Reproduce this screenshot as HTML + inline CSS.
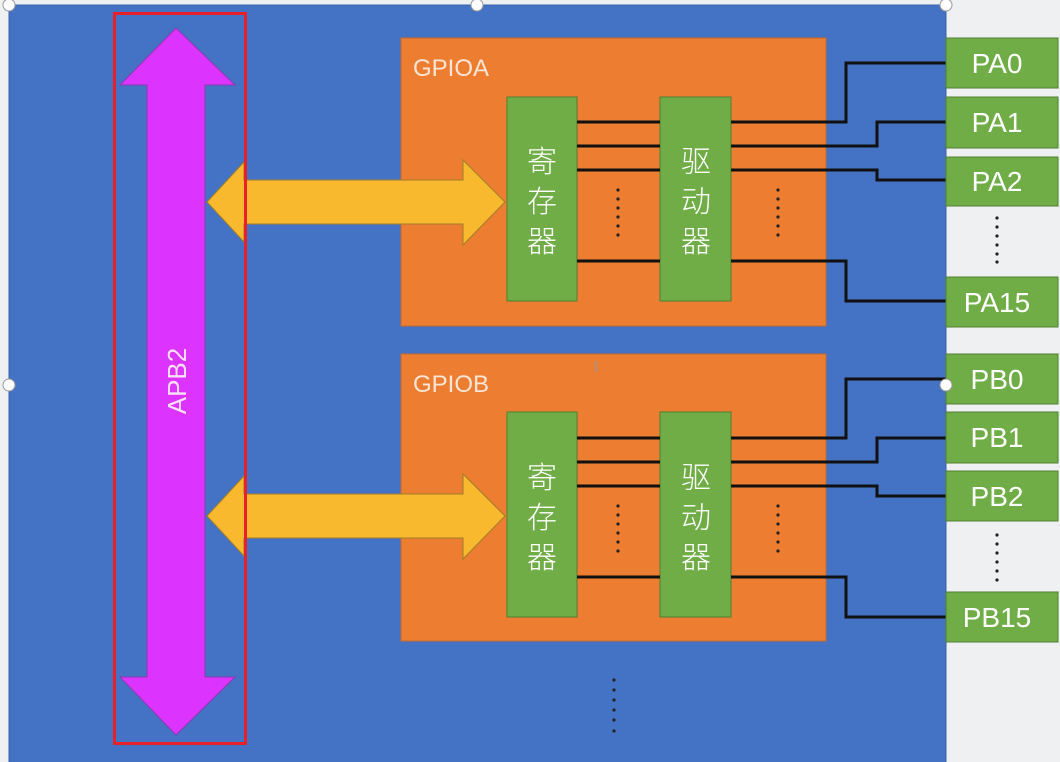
<!DOCTYPE html>
<html><head><meta charset="utf-8"><style>
body{margin:0;width:1060px;height:762px;overflow:hidden;background:#eef0f2}
svg{display:block}
text{font-family:"Liberation Sans","Noto Sans CJK SC",sans-serif}
.c{font-family:"Noto Sans CJK SC",sans-serif;font-weight:300}
</style></head><body>
<svg width="1060" height="762" viewBox="0 0 1060 762">
<rect x="0" y="0" width="1060" height="762" fill="#eef0f2"/>
<rect x="9" y="5" width="937" height="760" fill="#4472c4" stroke="#3a62a8"/>
<g id="A">
<rect x="401" y="38" width="425" height="288" fill="#ed7d31" stroke="#c9692a"/>
<text x="413" y="76" font-size="24" fill="#fbe5d6">GPIOA</text>
<rect x="507" y="97" width="70" height="204" fill="#70ad47" stroke="#507e32"/>
<rect x="660" y="97" width="71" height="204" fill="#70ad47" stroke="#507e32"/>
<g class="c" font-size="30" fill="#fff" text-anchor="middle">
<text x="542" y="172" class="c">寄</text><text x="542" y="212" class="c">存</text><text x="542" y="252" class="c">器</text>
<text x="696" y="172" class="c">驱</text><text x="696" y="212" class="c">动</text><text x="696" y="252" class="c">器</text></g>
<g stroke="#111" stroke-width="3" fill="none">
<path d="M577 122H660M577 146H660M577 170H660M577 261H660"/>
<path d="M731 122H846V63H946M731 146H877V122H946M731 170H877V180H946M731 261H846V301H946"/>
</g>
<g fill="#222"><circle cx="618" cy="190" r="1.6"/><circle cx="618" cy="199" r="1.6"/><circle cx="618" cy="208" r="1.6"/><circle cx="618" cy="217" r="1.6"/><circle cx="618" cy="226" r="1.6"/><circle cx="618" cy="235" r="1.6"/>
<circle cx="778" cy="190" r="1.6"/><circle cx="778" cy="199" r="1.6"/><circle cx="778" cy="208" r="1.6"/><circle cx="778" cy="217" r="1.6"/><circle cx="778" cy="226" r="1.6"/><circle cx="778" cy="235" r="1.6"/>
<circle cx="997" cy="218" r="1.6"/><circle cx="997" cy="227" r="1.6"/><circle cx="997" cy="236" r="1.6"/><circle cx="997" cy="245" r="1.6"/><circle cx="997" cy="254" r="1.6"/><circle cx="997" cy="262" r="1.6"/></g>
<polygon points="207,202 244,162 244,180 463,180 463,160 505,202 463,245 463,224 244,224 244,242" fill="#f9b92e" stroke="#a07d2a"/>
</g>
<g transform="translate(0,316)">
<rect x="401" y="38" width="425" height="287" fill="#ed7d31" stroke="#c9692a"/>
<text x="413" y="76" font-size="24" fill="#fbe5d6">GPIOB</text>
<rect x="507" y="96" width="70" height="205" fill="#70ad47" stroke="#507e32"/>
<rect x="660" y="96" width="71" height="205" fill="#70ad47" stroke="#507e32"/>
<g font-size="30" fill="#fff" text-anchor="middle">
<text x="542" y="172" class="c">寄</text><text x="542" y="212" class="c">存</text><text x="542" y="252" class="c">器</text>
<text x="696" y="172" class="c">驱</text><text x="696" y="212" class="c">动</text><text x="696" y="252" class="c">器</text></g>
<g stroke="#111" stroke-width="3" fill="none">
<path d="M577 122H660M577 146H660M577 170H660M577 261H660"/>
<path d="M731 122H846V63H946M731 146H877V122H946M731 170H877V180H946M731 261H846V301H946"/>
</g>
<g fill="#222"><circle cx="618" cy="190" r="1.6"/><circle cx="618" cy="199" r="1.6"/><circle cx="618" cy="208" r="1.6"/><circle cx="618" cy="217" r="1.6"/><circle cx="618" cy="226" r="1.6"/><circle cx="618" cy="235" r="1.6"/>
<circle cx="778" cy="190" r="1.6"/><circle cx="778" cy="199" r="1.6"/><circle cx="778" cy="208" r="1.6"/><circle cx="778" cy="217" r="1.6"/><circle cx="778" cy="226" r="1.6"/><circle cx="778" cy="235" r="1.6"/>
<circle cx="997" cy="219" r="1.6"/><circle cx="997" cy="228" r="1.6"/><circle cx="997" cy="237" r="1.6"/><circle cx="997" cy="246" r="1.6"/><circle cx="997" cy="255" r="1.6"/><circle cx="997" cy="264" r="1.6"/></g>
<polygon points="207,200 244,160 244,178 463,178 463,158 505,200 463,243 463,222 244,222 244,240" fill="#f9b92e" stroke="#a07d2a"/>
</g>
<g fill="#70ad47" stroke="#507e32">
<rect x="946" y="38" width="112" height="50"/><rect x="946" y="97" width="112" height="51"/><rect x="946" y="157" width="112" height="49"/><rect x="946" y="277" width="112" height="50"/>
<rect x="946" y="354" width="112" height="50"/><rect x="946" y="412" width="112" height="51"/><rect x="946" y="471" width="112" height="50"/><rect x="946" y="592" width="112" height="50"/>
</g>
<g font-size="28" fill="#fff" text-anchor="middle">
<text x="997" y="73">PA0</text><text x="997" y="132">PA1</text><text x="997" y="191">PA2</text><text x="997" y="312">PA15</text>
<text x="997" y="389">PB0</text><text x="997" y="447">PB1</text><text x="997" y="506">PB2</text><text x="997" y="627">PB15</text>
</g>
<g fill="#222"><circle cx="614" cy="680" r="1.6"/><circle cx="614" cy="690" r="1.6"/><circle cx="614" cy="700" r="1.6"/><circle cx="614" cy="710" r="1.6"/><circle cx="614" cy="720" r="1.6"/><circle cx="614" cy="731" r="1.6"/></g>
<polygon points="176,28 235,85 205,85 205,677 235,677 176,735 120,677 147,677 147,85 120,85" fill="#dd33ff" stroke="#8a3ab0"/>
<text transform="translate(186,381) rotate(-90)" font-size="26" fill="#fbe0ff" text-anchor="middle">APB2</text>
<rect x="114.5" y="13.5" width="131" height="730" fill="none" stroke="#e8202a" stroke-width="3"/>
<g fill="#fff" stroke="#999"><circle cx="9" cy="5" r="6"/><circle cx="477" cy="5" r="6"/><circle cx="946" cy="5" r="6"/><circle cx="9" cy="385" r="6"/><circle cx="946" cy="385" r="6"/></g>
<text x="596" y="372" font-size="16" fill="#999" text-anchor="middle">I</text>
</svg>
</body></html>
